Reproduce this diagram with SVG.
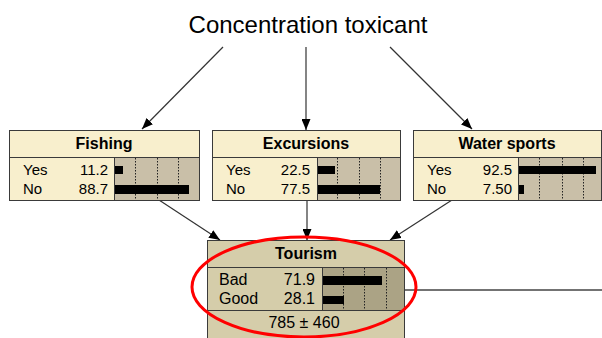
<svg xmlns="http://www.w3.org/2000/svg" width="602" height="338" viewBox="0 0 602 338">
  <defs>
    <marker id="arrow" markerUnits="userSpaceOnUse" markerWidth="11" markerHeight="9" refX="11" refY="4.5" orient="auto">
      <path d="M0,0 L11,4.5 L0,9 z" fill="#000"/>
    </marker>
    <style>
      text { font-family: "Liberation Sans", Arial, sans-serif; fill: #000; }
      .ttl { font-size: 16px; font-weight: bold; text-anchor: middle; }
      .lbl { font-size: 15px; }
      .num { font-size: 15px; text-anchor: end; }
      .big { font-size: 16px; }
      .bigr { font-size: 16px; text-anchor: end; }
      .box { stroke: #3a3a3a; stroke-width: 1; }
      .light { fill: #f8efcd; }
      .lightbar { fill: #c9bfa8; }
      .dark { fill: #d5cdaa; }
      .darkbar { fill: #aba385; }
      .grid { stroke: #222; stroke-width: 1; stroke-dasharray: 1.5 1.5; }
      .bar { fill: #000; }
      .edge { stroke: #333; stroke-width: 1.2; fill: none; marker-end: url(#arrow); }
    </style>
  </defs>
  <rect width="602" height="338" fill="#fff"/>

  <!-- root variable printed as plain text -->
  <g id="concentration">
    <text x="308" y="33" font-size="24" text-anchor="middle" font-family="Liberation Sans, Arial, sans-serif">Concentration toxicant</text>
  </g>

  <!-- connectors -->
  <g id="connectors">
    <line class="edge" x1="223" y1="47" x2="142" y2="129"/>
    <line class="edge" x1="306" y1="47" x2="306" y2="130"/>
    <line class="edge" x1="390" y1="47" x2="472" y2="129"/>
    <line class="edge" x1="159" y1="200" x2="220" y2="240"/>
    <line class="edge" x1="307" y1="200" x2="307" y2="240"/>
    <line class="edge" x1="452" y1="200" x2="390" y2="240"/>
    <line x1="404" y1="290" x2="602" y2="290" stroke="#444" stroke-width="1.5"/>
  </g>

  <!-- Fishing -->
  <g id="fishing">
    <rect class="box light" x="9.5" y="130.5" width="190" height="70"/>
    <rect class="box lightbar" x="114.5" y="157.5" width="85" height="43"/>
    <line class="box" x1="9.5" y1="157.5" x2="199.5" y2="157.5"/>
    <line class="grid" x1="135.5" y1="158" x2="135.5" y2="200"/>
    <line class="grid" x1="157.5" y1="158" x2="157.5" y2="200"/>
    <line class="grid" x1="178.5" y1="158" x2="178.5" y2="200"/>
    <rect class="bar" x="115" y="166" width="8" height="8"/>
    <rect class="bar" x="115" y="185" width="74" height="9"/>
    <text class="ttl" x="104" y="149">Fishing</text>
    <text class="lbl" x="23" y="175">Yes</text>
    <text class="num" x="108" y="175">11.2</text>
    <text class="lbl" x="23" y="194">No</text>
    <text class="num" x="108" y="194">88.7</text>
  </g>

  <!-- Excursions -->
  <g id="excursions">
    <rect class="box light" x="212.5" y="130.5" width="188" height="70"/>
    <rect class="box lightbar" x="317.5" y="157.5" width="83" height="43"/>
    <line class="box" x1="212.5" y1="157.5" x2="400.5" y2="157.5"/>
    <line class="grid" x1="337.5" y1="158" x2="337.5" y2="200"/>
    <line class="grid" x1="359.5" y1="158" x2="359.5" y2="200"/>
    <line class="grid" x1="380.5" y1="158" x2="380.5" y2="200"/>
    <rect class="bar" x="318" y="166" width="17" height="8"/>
    <rect class="bar" x="318" y="185" width="62" height="9"/>
    <text class="ttl" x="306" y="149">Excursions</text>
    <text class="lbl" x="226" y="175">Yes</text>
    <text class="num" x="310" y="175">22.5</text>
    <text class="lbl" x="226" y="194">No</text>
    <text class="num" x="310" y="194">77.5</text>
  </g>

  <!-- Water sports -->
  <g id="water-sports">
    <rect class="box light" x="413.5" y="130.5" width="188" height="70"/>
    <rect class="box lightbar" x="518.5" y="157.5" width="83" height="43"/>
    <line class="box" x1="413.5" y1="157.5" x2="601.5" y2="157.5"/>
    <line class="grid" x1="539.5" y1="158" x2="539.5" y2="200"/>
    <line class="grid" x1="562.5" y1="158" x2="562.5" y2="200"/>
    <line class="grid" x1="583.5" y1="158" x2="583.5" y2="200"/>
    <rect class="bar" x="519" y="166" width="77" height="8"/>
    <rect class="bar" x="519" y="185" width="5" height="9"/>
    <text class="ttl" x="507" y="149">Water sports</text>
    <text class="lbl" x="427" y="175">Yes</text>
    <text class="num" x="512" y="175">92.5</text>
    <text class="lbl" x="427" y="194">No</text>
    <text class="num" x="512" y="194">7.50</text>
  </g>

  <!-- Tourism -->
  <g id="tourism">
    <rect class="box dark" x="207.5" y="240.5" width="197" height="98"/>
    <rect class="box darkbar" x="322.5" y="267.5" width="82" height="43"/>
    <line class="box" x1="207.5" y1="267.5" x2="404.5" y2="267.5"/>
    <line class="box" x1="207.5" y1="310.5" x2="404.5" y2="310.5"/>
    <line class="grid" x1="343.5" y1="268" x2="343.5" y2="310"/>
    <line class="grid" x1="364.5" y1="268" x2="364.5" y2="310"/>
    <line class="grid" x1="386.5" y1="268" x2="386.5" y2="310"/>
    <rect class="bar" x="323" y="276" width="59" height="9"/>
    <rect class="bar" x="323" y="296" width="21" height="8"/>
    <text class="ttl" x="306" y="259">Tourism</text>
    <text class="big" x="219" y="285">Bad</text>
    <text class="bigr" x="315" y="285">71.9</text>
    <text class="big" x="219" y="304">Good</text>
    <text class="bigr" x="315" y="304">28.1</text>
    <text class="big" x="304" y="328" text-anchor="middle">785 ± 460</text>
  </g>

  <!-- highlight ring -->
  <ellipse cx="304" cy="287" rx="112" ry="50" fill="none" stroke="#ff0000" stroke-width="3"/>
</svg>
